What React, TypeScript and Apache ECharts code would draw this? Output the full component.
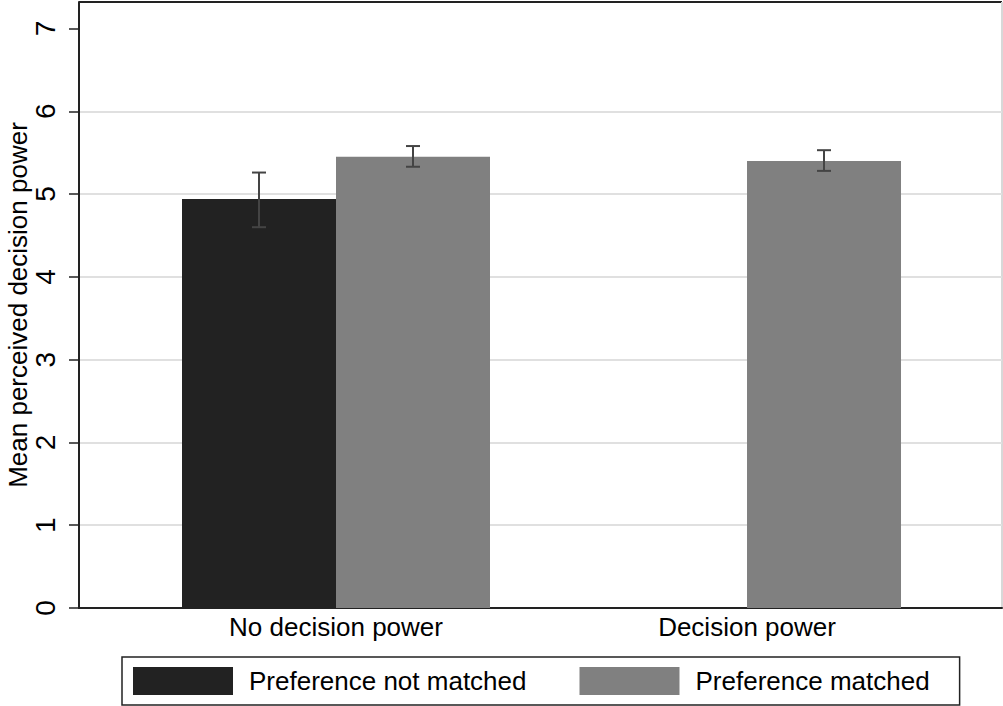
import React, { useEffect, useRef } from "react";
import * as echarts from "echarts";

const categories = ["No decision power", "Decision power"];
const seriesNames = ["Preference not matched", "Preference matched"];
const notMatchedMean: (number | null)[] = [4.94, null];
const notMatchedLow: (number | null)[] = [4.6, null];
const notMatchedHigh: (number | null)[] = [5.26, null];
const matchedMean: (number | null)[] = [5.45, 5.4];
const matchedLow: (number | null)[] = [5.33, 5.28];
const matchedHigh: (number | null)[] = [5.58, 5.53];
const yTicks = [0, 1, 2, 3, 4, 5, 6, 7];
const gridValues = [1, 2, 3, 4, 5, 6];

const FONT = "'Liberation Sans', Arial, Helvetica, sans-serif";
const BAR_W = 154;

export default function App() {
  const ref = useRef<HTMLDivElement>(null);
  useEffect(() => {
    if (!ref.current) return;
    const chart = echarts.init(ref.current, undefined, { renderer: "svg" });

    const toBar = (arr: (number | null)[]) =>
      arr.map((v, i) => (v == null ? null : [i, v])).filter((d) => d !== null);

    const errData: number[][] = [];
    notMatchedMean.forEach((v, i) => {
      if (v != null) errData.push([i, notMatchedLow[i] as number, notMatchedHigh[i] as number, -1]);
    });
    matchedMean.forEach((v, i) => {
      if (v != null) errData.push([i, matchedLow[i] as number, matchedHigh[i] as number, 1]);
    });

    const option: any = {
      animation: false,
      textStyle: { fontFamily: FONT },
      grid: { left: 79, right: 1, top: 2, bottom: 98, containLabel: false, outerBoundsMode: "none" },
      legend: {
        left: 122,
        top: 657,
        orient: "horizontal",
        data: seriesNames,
        icon: "rect",
        itemWidth: 100,
        itemHeight: 28,
        itemGap: 53,
        padding: [10, 30, 10, 11],
        borderColor: "#222",
        borderWidth: 1.5,
        borderRadius: 0,
        textStyle: { fontSize: 26, color: "#000", fontFamily: FONT, padding: [0, 0, 0, 11] },
        selectedMode: false,
      },
      xAxis: {
        type: "value",
        min: -0.6253,
        max: 1.6204,
        axisLine: { show: true, onZero: false, lineStyle: { color: "#222", width: 2 } },
        axisTick: { show: false },
        splitLine: { show: false },
        axisLabel: {
          customValues: [0, 1],
          formatter: (v: number) => categories[Math.round(v)] ?? "",
          fontSize: 26,
          color: "#000",
          margin: 6,
          fontFamily: FONT,
        },
      },
      yAxis: {
        type: "value",
        min: 0,
        max: 7.32,
        interval: 1,
        name: "Mean perceived decision power",
        nameLocation: "middle",
        nameGap: 48,
        nameMoveOverlap: false,
        nameTextStyle: { fontSize: 26, color: "#000", fontFamily: FONT },
        axisLine: { show: true, onZero: false, lineStyle: { color: "#222", width: 2 } },
        axisTick: {
          show: true,
          customValues: yTicks,
          length: 10,
          lineStyle: { color: "#222", width: 1.5 },
        },
        splitLine: { show: false },
        axisLabel: {
          customValues: yTicks,
          rotate: 90,
          fontSize: 28,
          color: "#000",
          margin: 20,
          fontFamily: FONT,
          formatter: (v: number) => (Number.isInteger(v) ? String(v) : ""),
        },
      },
      series: [
        {
          name: "grid",
          type: "line",
          data: [],
          z: 0,
          silent: true,
          markLine: {
            z: 0,
            silent: true,
            symbol: "none",
            label: { show: false },
            lineStyle: { color: "#e0e0e0", width: 2, type: "solid" },
            data: gridValues.map((v) => ({ yAxis: v })),
          },
        },
        {
          name: seriesNames[0],
          type: "bar",
          data: toBar(notMatchedMean),
          barWidth: BAR_W,
          barGap: "0%",
          itemStyle: { color: "#222222" },
          z: 2,
        },
        {
          name: seriesNames[1],
          type: "bar",
          data: toBar(matchedMean),
          barWidth: BAR_W,
          barGap: "0%",
          itemStyle: { color: "#808080" },
          z: 2,
        },
        {
          name: "err",
          type: "custom",
          z: 5,
          silent: true,
          data: errData,
          renderItem: (params: any, api: any) => {
            const x = api.value(0);
            const lo = api.coord([x, api.value(1)]);
            const hi = api.coord([x, api.value(2)]);
            const cx = lo[0] + api.value(3) * (BAR_W / 2);
            const cap = 7;
            const style = { stroke: "#444", lineWidth: 2 };
            return {
              type: "group",
              children: [
                { type: "line", shape: { x1: cx, y1: lo[1], x2: cx, y2: hi[1] }, style },
                { type: "line", shape: { x1: cx - cap, y1: lo[1], x2: cx + cap, y2: lo[1] }, style },
                { type: "line", shape: { x1: cx - cap, y1: hi[1], x2: cx + cap, y2: hi[1] }, style },
              ],
            };
          },
        },
      ],
      graphic: [
        { type: "line", shape: { x1: 79, y1: 2, x2: 1002, y2: 2 }, style: { stroke: "#222", lineWidth: 2 } },
        { type: "line", shape: { x1: 1002, y1: 2, x2: 1002, y2: 608 }, style: { stroke: "#d8d8d8", lineWidth: 2 } },
      ],
    };
    chart.setOption(option);
    return () => chart.dispose();
  }, []);
  return (
    <div
      ref={ref}
      style={{ position: "fixed", left: 0, top: 0, width: 1003, height: 706, background: "#fff" }}
    />
  );
}
